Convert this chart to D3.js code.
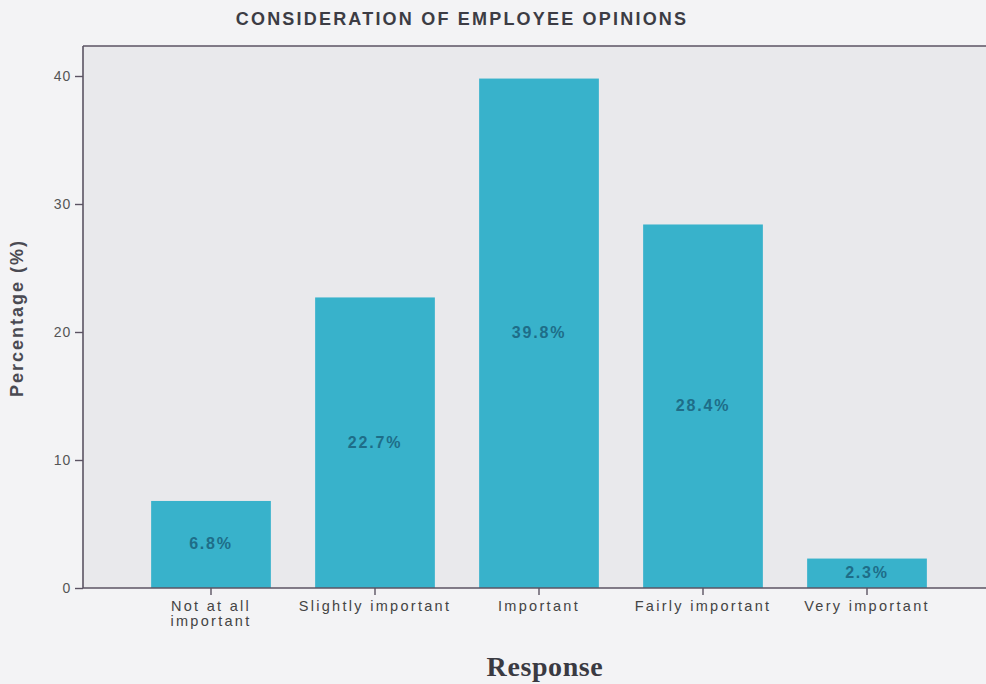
<!DOCTYPE html>
<html>
<head>
<meta charset="utf-8">
<script src="https://cdn.jsdelivr.net/npm/d3@7"></script>
<style>
  html, body { margin: 0; padding: 0; background: #f3f3f5; }
  svg { display: block; }
</style>
</head>
<body>
<svg id="chart" width="986" height="684"></svg>
<script>
// Survey responses: how much employee opinions are taken into account
const categories = ["Not at all important", "Slightly important", "Important", "Fairly important", "Very important"];
const categoryLines = [["Not at all", "important"], ["Slightly important"], ["Important"], ["Fairly important"], ["Very important"]];
const percentages = [6.8, 22.7, 39.8, 28.4, 2.3];
const yTicks = [0, 10, 20, 30, 40];

const svg = d3.select("#chart");

// plot frame
const frame = { left: 83, top: 46, right: 990, bottom: 588 };
const sans = "Liberation Sans, Arial, sans-serif";

const x = d3.scaleBand()
  .domain(categories)
  .range([129, 949])
  .paddingInner(0.27)
  .paddingOuter(0.135);

const y = d3.scaleLinear()
  .domain([0, 40])
  .range([frame.bottom, 76]);

const axisColor = "#5b5363";

// plot background
svg.append("rect")
  .attr("x", frame.left).attr("y", frame.top)
  .attr("width", frame.right - frame.left).attr("height", frame.bottom - frame.top)
  .attr("fill", "#e9e9ec");

// top border
svg.append("line")
  .attr("x1", frame.left).attr("x2", frame.right)
  .attr("y1", frame.top).attr("y2", frame.top)
  .attr("stroke", axisColor).attr("stroke-width", 1.6);

// bars
svg.append("g").selectAll("rect")
  .data(percentages)
  .join("rect")
  .attr("x", (d, i) => x(categories[i]))
  .attr("y", d => y(d))
  .attr("width", x.bandwidth())
  .attr("height", d => y(0) - y(d))
  .attr("fill", "#38b2cb");

// value labels, centred inside each bar
svg.append("g").selectAll("text")
  .data(percentages)
  .join("text")
  .attr("x", (d, i) => x(categories[i]) + x.bandwidth() / 2)
  .attr("y", d => (y(d) + y(0)) / 2 + 5)
  .attr("text-anchor", "middle")
  .attr("font-family", sans)
  .attr("font-size", 16)
  .attr("font-weight", "bold")
  .attr("letter-spacing", 1.8)
  .attr("fill", "#1e6d88")
  .text(d => d.toFixed(1) + "%");

// y axis
const yAxis = svg.append("g")
  .attr("transform", `translate(${frame.left},0)`)
  .call(d3.axisLeft(y).tickValues(yTicks).tickSize(8).tickPadding(4).tickSizeOuter(0));
yAxis.select(".domain").remove();
yAxis.append("line")
  .attr("x1", 0).attr("x2", 0)
  .attr("y1", frame.top).attr("y2", frame.bottom)
  .attr("stroke", axisColor).attr("stroke-width", 1.6);
yAxis.selectAll(".tick line").attr("stroke", axisColor).attr("stroke-width", 1.4);
yAxis.selectAll(".tick text")
  .attr("font-family", sans)
  .attr("font-size", 14)
  .attr("letter-spacing", 0.8)
  .attr("fill", "#555");

// x axis
const xAxis = svg.append("g")
  .attr("transform", `translate(0,${frame.bottom})`)
  .call(d3.axisBottom(x).tickSize(7).tickSizeOuter(0).tickFormat(""));
xAxis.select(".domain").remove();
xAxis.append("line")
  .attr("x1", frame.left).attr("x2", frame.right)
  .attr("y1", 0).attr("y2", 0)
  .attr("stroke", axisColor).attr("stroke-width", 1.6);
xAxis.selectAll(".tick line").attr("stroke", axisColor).attr("stroke-width", 1.4);

// category labels (multi-line where needed)
svg.append("g").selectAll("text")
  .data(categoryLines)
  .join("text")
  .attr("x", (d, i) => x(categories[i]) + x.bandwidth() / 2)
  .attr("y", 611)
  .attr("text-anchor", "middle")
  .attr("font-family", sans)
  .attr("font-size", 14.5)
  .attr("letter-spacing", 2.3)
  .attr("fill", "#444")
  .each(function(lines) {
    const cx = d3.select(this).attr("x");
    d3.select(this).selectAll("tspan")
      .data(lines)
      .join("tspan")
      .attr("x", cx)
      .attr("dy", (l, j) => j === 0 ? 0 : 15)
      .text(l => l);
  });

// title
svg.append("text")
  .attr("x", 462).attr("y", 25)
  .attr("text-anchor", "middle")
  .attr("font-family", sans)
  .attr("font-size", 18)
  .attr("font-weight", "bold")
  .attr("letter-spacing", 2.2)
  .attr("fill", "#3c3c44")
  .text("CONSIDERATION OF EMPLOYEE OPINIONS");

// y axis title
svg.append("text")
  .attr("transform", "translate(23,318) rotate(-90)")
  .attr("text-anchor", "middle")
  .attr("font-family", sans)
  .attr("font-size", 18)
  .attr("font-weight", "bold")
  .attr("letter-spacing", 2)
  .attr("fill", "#4a4a52")
  .text("Percentage (%)");

// x axis title
svg.append("text")
  .attr("x", 545).attr("y", 676)
  .attr("text-anchor", "middle")
  .attr("font-family", "Liberation Serif, Times New Roman, serif")
  .attr("font-size", 28)
  .attr("font-weight", "bold")
  .attr("letter-spacing", 0.6)
  .attr("fill", "#3a3a42")
  .text("Response");
</script>
</body>
</html>
